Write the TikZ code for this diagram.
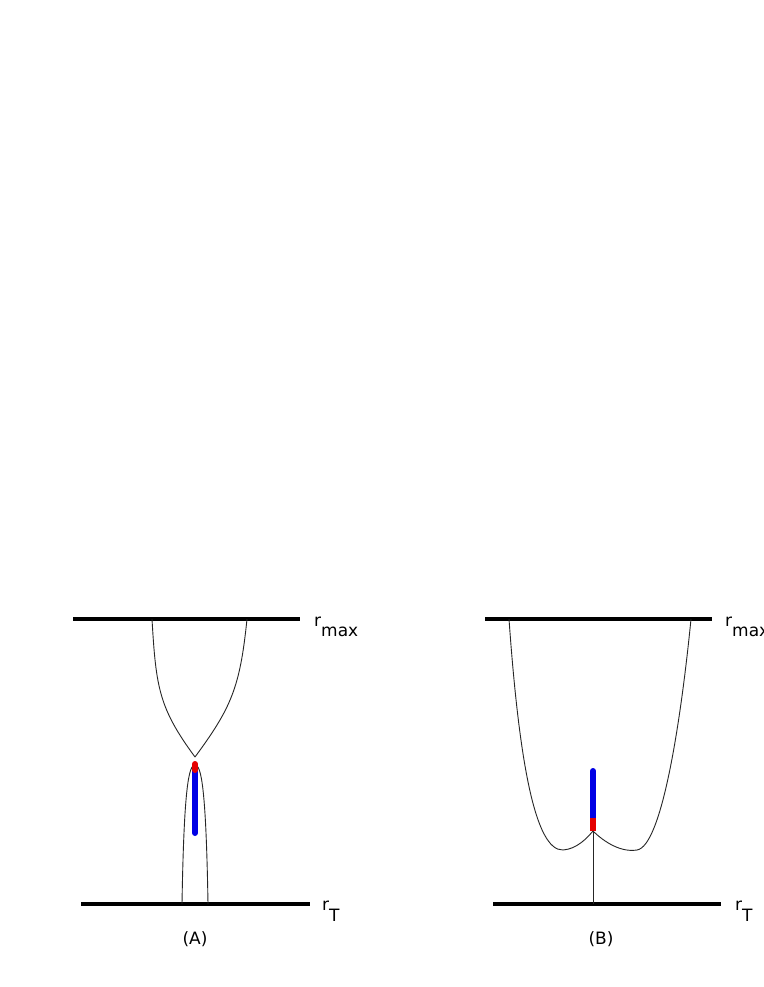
\documentclass[tikz,border=0pt]{standalone}
\usepackage{fontspec}
\setmainfont{DejaVu Sans}
\tikzset{
  level/.style={line width=3.5pt},
  pot/.style={line width=0.9pt, black!85},
  bluebar/.style={line width=6pt, blue!90!black, line cap=round},
  redbar/.style={line width=6pt, red!90!black},
  lbl/.style={inner sep=0pt, font=\fontsize{17}{17}\selectfont},
}
\begin{document}
\begin{tikzpicture}[x=1pt,y=-1pt]
\useasboundingbox (0,0) rectangle (763,987);
\fill[white] (0,0) rectangle (763,987);
% ---- Panel A ----
\coordinate (A1) at (73,619);  \coordinate (A2) at (300,619);
\coordinate (A3) at (81,904);  \coordinate (A4) at (310,904);
\draw[level] (A1) -- (A2);
\draw[level] (A3) -- (A4);
\node[lbl, anchor=west] (rmaxA) at (314,627) {r\raisebox{-10pt}{max}};
\node[lbl, anchor=west] (rTA) at (322,911) {r\raisebox{-11pt}{T}};
\node[lbl] (labA) at (195,939) {(A)};
\coordinate (Atip) at (195,757);
\draw[pot] (152,619) .. controls (156,688) and (159,708) .. (Atip);
\draw[pot] (247,619) .. controls (240,688) and (231,708) .. (Atip);
\draw[pot] (182,904) .. controls (184,785) and (189,765) .. (195,765)
              .. controls (201,765) and (206,785) .. (208,904);
\coordinate (Ab1) at (195,770); \coordinate (Ab2) at (195,833);
\draw[bluebar] (Ab1) -- (Ab2);
\draw[redbar, line cap=round] (195,764) -- (Ab1);
% ---- Panel B ----
\coordinate (B1) at (485,619);  \coordinate (B2) at (712,619);
\coordinate (B3) at (493,904);  \coordinate (B4) at (721,904);
\draw[level] (B1) -- (B2);
\draw[level] (B3) -- (B4);
\node[lbl, anchor=west] (rmaxB) at (725,627) {r\raisebox{-10pt}{max}};
\node[lbl, anchor=west] (rTB) at (735,911) {r\raisebox{-11pt}{T}};
\node[lbl] (labB) at (601,939) {(B)};
\coordinate (Bcusp) at (593,831);
\draw[pot] (509,619) .. controls (519,760) and (535,851) .. (563,850)
              .. controls (577,849) and (587,838) .. (Bcusp)
              .. controls (600,838) and (618,853) .. (637,850)
              .. controls (662,846) and (681,720) .. (691,619);
\draw[pot] (Bcusp) -- (593,904);
\coordinate (Bb1) at (593,818); \coordinate (Bb2) at (593,771);
\draw[bluebar] (Bb1) -- (Bb2);
\draw[redbar] (Bb1) -- (Bcusp);
\end{tikzpicture}
\end{document}
